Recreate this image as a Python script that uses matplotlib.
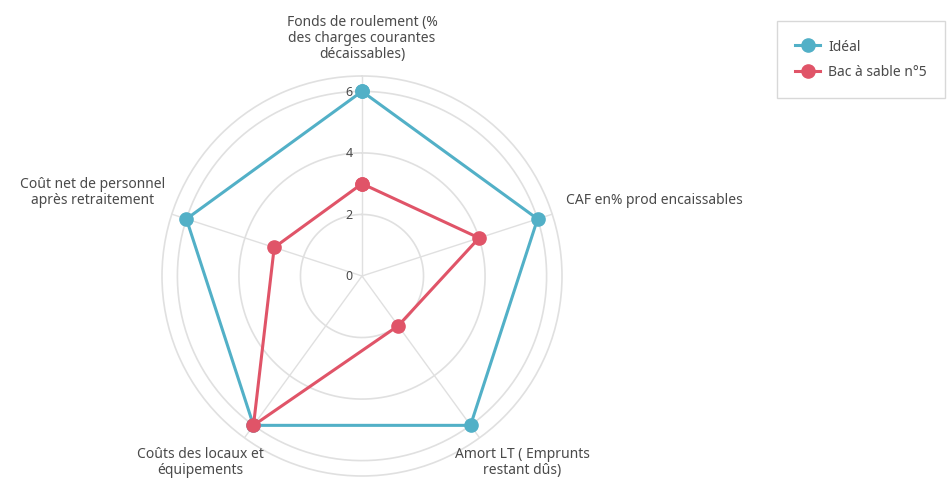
import numpy as np
import matplotlib
matplotlib.use("Agg")
import matplotlib.pyplot as plt

plt.rcParams['font.family'] = ['Noto Sans', 'DejaVu Sans']

# Axes of the radar, clockwise from the top
CATEGORIES = [
    "Fonds de roulement (%\ndes charges courantes\ndécaissables)",
    "CAF en% prod encaissables",
    "Amort LT ( Emprunts\nrestant dûs)",
    "Coûts des locaux et\néquipements",
    "Coût net de personnel\naprès retraitement",
]
IDEAL = [6, 6, 6, 6, 6]
BAC = [3, 4, 2, 6, 3]
SERIES_NAMES = ["Idéal", "Bac à sable n°5"]
R_TICKS = [0, 2, 4, 6]

C_IDEAL = "#52b0c7"
C_BAC = "#e05468"
GRID = "#e0e0e0"
TXT = "#4a4a4a"

fig = plt.figure(figsize=(9.53, 4.85), dpi=100)
ax = fig.add_axes([162 / 953, 8 / 485, 400 / 953, 400 / 485], projection="polar")
ax.set_theta_zero_location("N")
ax.set_theta_direction(-1)

n = len(CATEGORIES)
theta = np.linspace(0, 2 * np.pi, n, endpoint=False)
tclosed = np.append(theta, theta[0])

rmax = 6.5
ax.set_ylim(0, rmax)
ax.set_yticks([])
ax.set_xticks([])
ax.grid(False)
ax.spines["polar"].set_color(GRID)
ax.spines["polar"].set_linewidth(1.2)

# circular grid
tt = np.linspace(0, 2 * np.pi, 300)
for r in R_TICKS[1:]:
    ax.plot(tt, np.full_like(tt, r), color=GRID, lw=1.2, zorder=1)
# spokes
for t in theta:
    ax.plot([t, t], [0, rmax], color=GRID, lw=1.0, zorder=1)

for vals, col, name in [(IDEAL, C_IDEAL, SERIES_NAMES[0]), (BAC, C_BAC, SERIES_NAMES[1])]:
    v = np.append(vals, vals[0])
    ax.plot(tclosed, v, color=col, lw=2.2, marker="o", markersize=9.5,
            markeredgecolor=col, label=name, zorder=3)

# radial tick labels, left of the top spoke
for r in R_TICKS:
    ax.annotate(str(r), xy=(0, r), xytext=(-9, 0), textcoords="offset pixels",
                ha="right", va="center", fontsize=9, color=TXT, zorder=4)

# category labels
label_pos = [
    ((0, 15), "center", "bottom"),
    ((14, 15), "left", "center"),
    ((43, -8), "center", "top"),
    ((-44, -8), "center", "top"),
    ((-7, 23), "right", "center"),
]
for t, lab, (off, ha, va) in zip(theta, CATEGORIES, label_pos):
    ax.annotate(lab, xy=(t, rmax), xytext=off, textcoords="offset pixels",
                ha=ha, va=va, fontsize=10, color=TXT, multialignment="center",
                linespacing=1.1, annotation_clip=False)

leg = fig.legend(loc="upper left", bbox_to_anchor=(777 / 953, 1 - 22 / 485),
                 fontsize=10, frameon=True, fancybox=False, borderpad=1.3,
                 handlelength=1.8, handletextpad=0.6, labelspacing=0.75,
                 borderaxespad=0)
leg.get_frame().set_edgecolor("#cfcfcf")
leg.get_frame().set_linewidth(1.0)
for t in leg.get_texts():
    t.set_color(TXT)

fig.savefig("out.png", dpi=100)
